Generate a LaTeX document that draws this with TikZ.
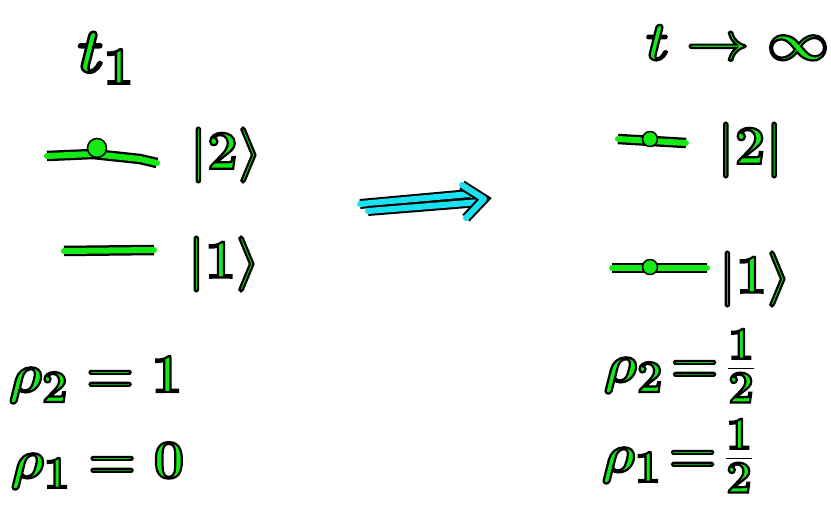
\documentclass[tikz,border=0pt]{standalone}
\usetikzlibrary{positioning}
\definecolor{handgreen}{RGB}{20,235,20}
\definecolor{handcyan}{RGB}{25,225,240}
% green letters with a black rim
\newcommand{\rimmed}[1]{\special{pdf:literal direct 0 0 0 RG 2 Tr 1 w}#1\special{pdf:literal direct 0 Tr}}

\begin{document}
\begin{tikzpicture}[
  x=1pt, y=-1pt,
  hand text/.style={font=\Huge\boldmath, scale=2.2, text=handgreen, inner sep=0pt},
  level line/.style={draw=handgreen, line width=6pt, line cap=round, line join=round,
    preaction={draw=black, line width=10.5pt}},
  pop dot/.style={circle, fill=handgreen, draw=black, line width=1.5pt, minimum size=15pt, inner sep=0pt},
  big arrow/.style={draw=handcyan, line width=6pt, line cap=round, line join=round,
    preaction={draw=black, line width=10pt}}
]
  \useasboundingbox (0,0) rectangle (831,505);

  % before: t_1
  \node[hand text, scale=1.15] (tL) at (106,58) {\rimmed{$t_1$}};

  \coordinate (L2a) at (47,156);
  \coordinate (L2b) at (157,163);
  \draw[level line] (L2a) -- (93,154) -- (140,159) -- (L2b);
  \node[pop dot, minimum size=19pt] (L2dot) at (97,148) {};
  \node[hand text] (k2L) at (226,155) {\rimmed{$|2\rangle$}};

  \coordinate (L1a) at (64,251);
  \coordinate (L1b) at (154,250);
  \draw[level line] (L1a) -- (L1b);
  \node[hand text] (k1L) at (224,264) {\rimmed{$|1\rangle$}};

  \node[hand text, anchor=base west] (rho2L) at (8,392) {\rimmed{$\rho_2 = 1$}};
  \node[hand text, anchor=base west] (rho1L) at (10,478) {\rimmed{$\rho_1 = 0$}};

  % the arrow
  \coordinate (arrL) at (360,207);
  \coordinate (arrR) at (484,199);
  \draw[big arrow] ([yshift=3pt]arrL) -- ([xshift=-14pt,yshift=5pt]arrR);
  \draw[big arrow] ([xshift=8pt,yshift=-4pt]arrL) -- ([xshift=-4pt,yshift=-3pt]arrR);
  \draw[big arrow] ([xshift=-22pt,yshift=14pt]arrR) -- (arrR) -- ([xshift=-18pt,yshift=-19pt]arrR);

  % after: t -> infinity
  \node[hand text, anchor=base east] (tR) at (830,60) {\rimmed{$t \to \infty$}};

  \coordinate (R2a) at (618,139);
  \coordinate (R2b) at (686,143);
  \draw[level line] (R2a) -- (R2b);
  \node[pop dot] (R2dot) at (650,139) {};
  \node[hand text] (k2R) at (750,150) {\rimmed{$|2|$}};

  \coordinate (R1a) at (612,268);
  \coordinate (R1b) at (707,268);
  \draw[level line] (R1a) -- (R1b);
  \node[pop dot] (R1dot) at (650,267) {};
  \node[hand text] (k1R) at (755,279) {\rimmed{$|1\rangle$}};

  \node[hand text, anchor=base west] (rho2R) at (603,382) {\rimmed{$\rho_2\!=\!\frac{1}{2}$}};
  \node[hand text, anchor=base west] (rho1R) at (601,472) {\rimmed{$\rho_1\!=\!\frac{1}{2}$}};
\end{tikzpicture}
\end{document}
